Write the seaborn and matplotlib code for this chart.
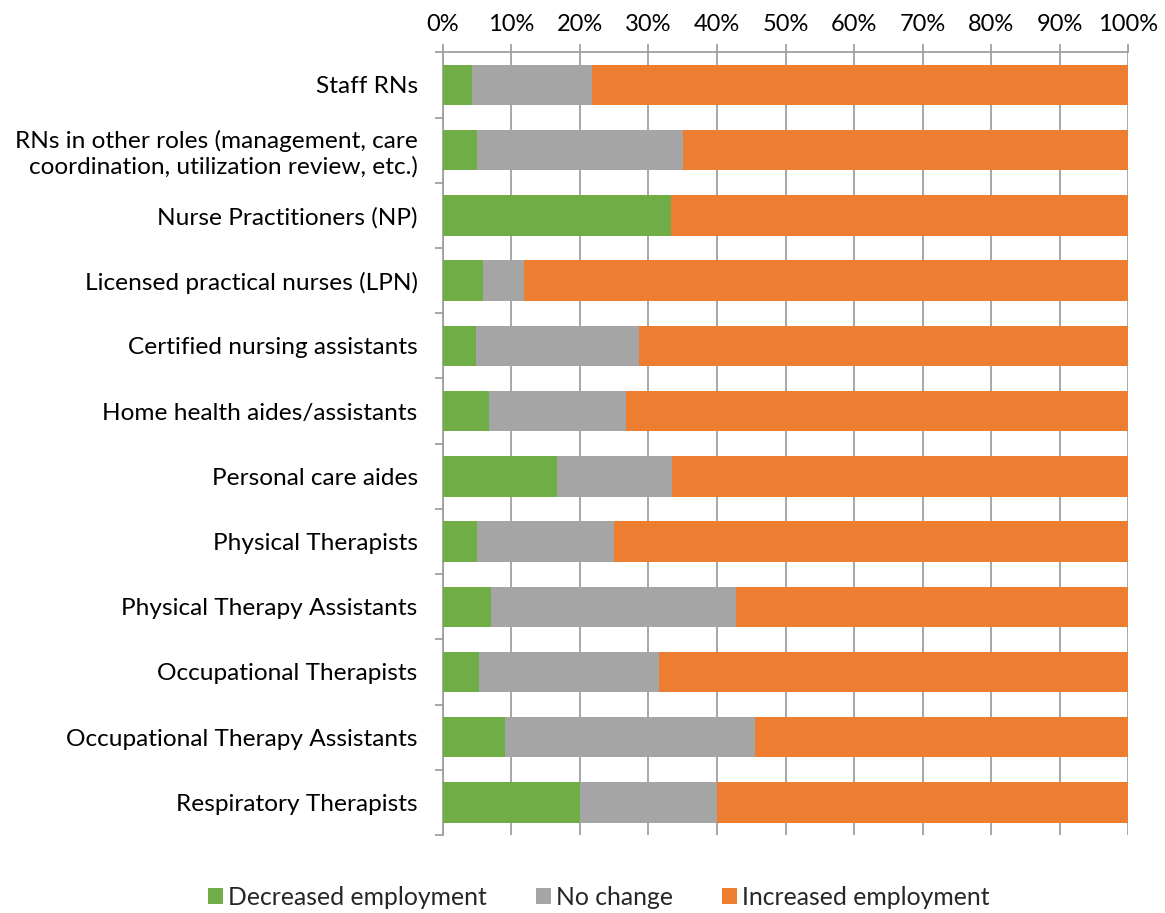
import numpy as np
import pandas as pd
import seaborn as sns
import matplotlib
matplotlib.use("Agg")
from matplotlib import pyplot as plt
from matplotlib.patches import Patch
from matplotlib.ticker import PercentFormatter

# share of respondents (%)
categories = [
    "Staff RNs",
    "RNs in other roles (management, care\ncoordination, utilization review, etc.)",
    "Nurse Practitioners (NP)",
    "Licensed practical nurses (LPN)",
    "Certified nursing assistants",
    "Home health aides/assistants",
    "Personal care aides",
    "Physical Therapists",
    "Physical Therapy Assistants",
    "Occupational Therapists",
    "Occupational Therapy Assistants",
    "Respiratory Therapists",
]
decreased = [4.3, 5.0, 33.3, 5.9, 4.8, 6.7, 16.7, 5.0, 7.1, 5.3, 9.1, 20.0]
no_change = [17.4, 30.0, 0.0, 5.9, 23.8, 20.0, 16.7, 20.0, 35.7, 26.3, 36.4, 20.0]
increased = [78.3, 65.0, 66.7, 88.2, 71.4, 73.3, 66.6, 75.0, 57.2, 68.4, 54.5, 60.0]

series = ["Decreased employment", "No change", "Increased employment"]
colors = ["#70AD47", "#A5A5A5", "#ED7D31"]

df = pd.DataFrame({"category": categories, "dec": decreased,
                   "nc": no_change, "inc": increased})
df["cum_dec"] = df["dec"]
df["cum_nc"] = df["dec"] + df["nc"]
df["cum_inc"] = df["cum_nc"] + df["inc"]

sns.set_style("white")
plt.rcParams["font.family"] = ["Lato", "DejaVu Sans"]

fig = plt.figure(figsize=(11.65, 9.13), dpi=100)
ax = fig.add_axes([0.380, 0.0854, 0.5886, 0.8573])

# stacked bars drawn back to front
for col, color in [("cum_inc", colors[2]), ("cum_nc", colors[1]), ("cum_dec", colors[0])]:
    sns.barplot(data=df, x=col, y="category", orient="h", color=color,
                width=0.62, linewidth=0, saturation=1, ax=ax, zorder=3)

grid_c = "#A0A0A0"
ax.set_xlim(0, 100)
ax.set_ylim(len(categories) - 0.5, -0.5)
ax.set_xticks(np.arange(0, 101, 10))
ax.xaxis.set_major_formatter(PercentFormatter(decimals=0))
ax.xaxis.tick_top()
ax.grid(axis="x", color=grid_c, linewidth=1.3, zorder=0)
ax.set_axisbelow(True)

# boundary ticks on the left, labels centred between them
ax.set_yticks(np.arange(-0.5, len(categories), 1))
ax.set_yticklabels([])
ax.set_yticks(np.arange(len(categories)), minor=True)
ax.set_yticklabels(categories, minor=True)
ax.tick_params(axis="y", which="major", direction="out", length=6, width=1.3, color=grid_c, left=True)
ax.tick_params(axis="y", which="minor", length=0, pad=18, labelsize=17.6, labelcolor="black")
ax.tick_params(axis="x", direction="out", length=5.5, width=1.3, color=grid_c,
               top=True, bottom=False, pad=7, labelsize=17, labelcolor="black")

ax.set_xlabel("")
ax.set_ylabel("")
for side in ["bottom", "right"]:
    ax.spines[side].set_visible(False)
for side in ["top", "left"]:
    ax.spines[side].set_color(grid_c)
    ax.spines[side].set_linewidth(1.3)

handles = [Patch(facecolor=c, edgecolor="none") for c in colors]
fig.legend(handles, series, loc="center", bbox_to_anchor=(0.514, 0.0175), ncol=3,
           frameon=False, fontsize=17.8, handlelength=0.6, handleheight=0.6,
           handletextpad=0.2, columnspacing=2.0)

fig.savefig("out.png", dpi=100)
